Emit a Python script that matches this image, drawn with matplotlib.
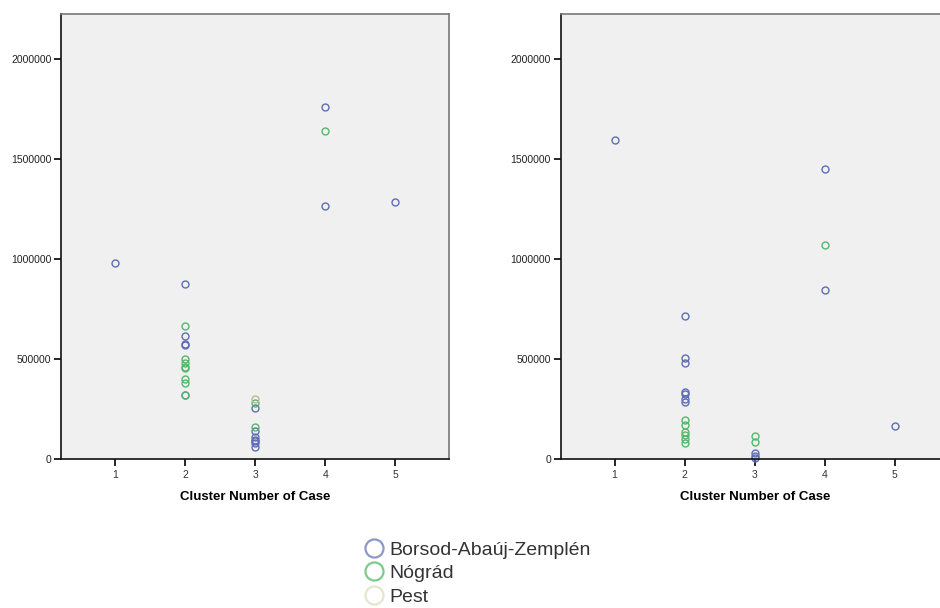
import matplotlib.pyplot as plt
from matplotlib.lines import Line2D

plt.rcParams['font.family'] = ['Liberation Sans', 'DejaVu Sans']

groups = ['Borsod-Abaúj-Zemplén', 'Nógrád', 'Pest']
colors = ['#5f6db5', '#55b868', '#bdb89a']

# left panel: (cluster, value) per county
left_baz_x = [1, 2, 2, 2, 2, 2, 3, 3, 3, 3, 3, 3, 3, 4, 4, 5]
left_baz_y = [980000, 873000, 613000, 575000, 568000, 318000,
              257000, 140000, 112000, 97000, 88000, 78000, 62000,
              1762000, 1265000, 1285000]
left_nog_x = [2, 2, 2, 2, 2, 2, 2, 2, 3, 3, 4]
left_nog_y = [667000, 498000, 478000, 462000, 455000, 400000, 380000, 322000,
              280000, 160000, 1642000]
left_pest_x = [3]
left_pest_y = [301000]

# right panel
right_baz_x = [1, 2, 2, 2, 2, 2, 2, 2, 3, 3, 3, 4, 4, 5]
right_baz_y = [1593000, 713000, 506000, 482000, 336000, 325000, 300000, 283000,
               30000, 14000, 5000, 1450000, 846000, 166000]
right_nog_x = [2, 2, 2, 2, 2, 2, 3, 3, 4]
right_nog_y = [195000, 172000, 135000, 120000, 100000, 82000,
               115000, 86000, 1071000]
right_pest_x = []
right_pest_y = []

xticks = [1, 2, 3, 4, 5]
yticks = [0, 500000, 1000000, 1500000, 2000000]

fig = plt.figure(figsize=(9.4, 6.08), dpi=100)
W, H = 940, 608


def make_axes(left_px):
    return fig.add_axes([left_px / W, (H - 459) / H, 388 / W, 445 / H])


panels = [
    (61.3, [(left_baz_x, left_baz_y), (left_nog_x, left_nog_y), (left_pest_x, left_pest_y)]),
    (560.7, [(right_baz_x, right_baz_y), (right_nog_x, right_nog_y), (right_pest_x, right_pest_y)]),
]

for left_px, series in panels:
    ax = make_axes(left_px)
    ax.set_facecolor('#f0f0f0')
    for (xs, ys), c in zip(series, colors):
        ax.plot(xs, ys, 'o', ms=5, mfc='none', mec=c, mew=1.0, clip_on=False)
    ax.set_xlim(0.23, 5.77)
    ax.set_ylim(0, 2225000)
    ax.set_xticks(xticks)
    ax.set_yticks(yticks)
    ax.set_yticklabels([str(v) for v in yticks])
    ax.tick_params(axis='both', direction='out', length=5, width=1.2,
                   labelsize=7.5, colors='black', pad=2)
    ax.tick_params(axis='x', labelcolor='#333333', pad=3)
    ax.tick_params(axis='y', labelcolor='#222222')
    for s in ['top', 'right']:
        ax.spines[s].set_color('#777777')
        ax.spines[s].set_linewidth(1.2)
    for s in ['left', 'bottom']:
        ax.spines[s].set_color('#111111')
        ax.spines[s].set_linewidth(1.2)
    ax.set_xlabel('Cluster Number of Case', fontsize=9.5, fontweight='bold', labelpad=8)

handles = [Line2D([], [], marker='o', ls='none', ms=13, mfc='none', mec=c, mew=1.6, alpha=0.8)
           for c in ['#6f7dc0', '#5dbd6d', '#e2dfc2']]
fig.legend(handles, groups, loc='upper left', bbox_to_anchor=(364 / W, (H - 541) / H),
           frameon=False, fontsize=14, labelspacing=0.3, handletextpad=0.3,
           handlelength=1.0, borderpad=0, borderaxespad=0, labelcolor='#333333')

fig.savefig('out.png', dpi=100)
